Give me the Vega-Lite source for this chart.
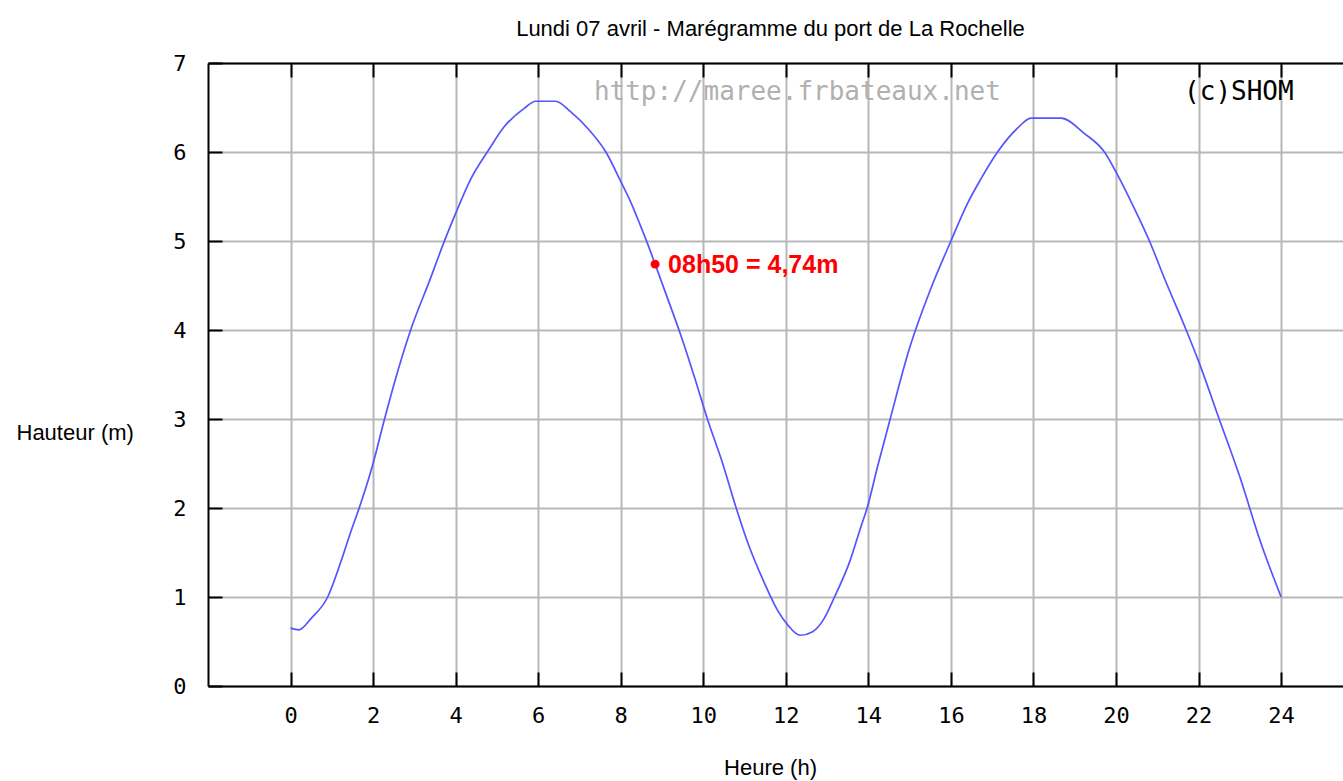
{
  "$schema": "https://vega.github.io/schema/vega-lite/v6.json",
  "width": 1135,
  "height": 623,
  "autosize": {"type": "none"},
  "padding": {"left": 208, "top": 63, "right": 0, "bottom": 95},
  "background": "white",
  "config": {"view": {"stroke": null}},
  "title": {
    "text": "Lundi 07 avril - Marégramme du port de La Rochelle",
    "font": "Liberation Sans", "fontSize": 22, "fontWeight": "normal", "color": "black",
    "anchor": "middle", "offset": 11, "dx": -5
  },
  "datasets": {
    "tide": [
      {"h": 0, "v": 0.65}, {"h": 0.2, "v": 0.63}, {"h": 0.5, "v": 0.76}, {"h": 0.9, "v": 1.0},
      {"h": 1.2, "v": 1.37}, {"h": 1.45, "v": 1.72}, {"h": 1.7, "v": 2.05}, {"h": 2.0, "v": 2.5},
      {"h": 2.26, "v": 2.97}, {"h": 2.5, "v": 3.38}, {"h": 2.91, "v": 4.0}, {"h": 3.39, "v": 4.58},
      {"h": 3.72, "v": 4.99}, {"h": 4.0, "v": 5.31}, {"h": 4.36, "v": 5.69}, {"h": 4.81, "v": 6.03},
      {"h": 5.17, "v": 6.28}, {"h": 5.66, "v": 6.49}, {"h": 5.94, "v": 6.57}, {"h": 6.42, "v": 6.57},
      {"h": 6.79, "v": 6.45}, {"h": 7.23, "v": 6.25}, {"h": 7.64, "v": 6.0}, {"h": 8.0, "v": 5.67},
      {"h": 8.24, "v": 5.44}, {"h": 8.48, "v": 5.17}, {"h": 8.65, "v": 4.97}, {"h": 8.833, "v": 4.74},
      {"h": 9.21, "v": 4.26}, {"h": 9.45, "v": 3.95}, {"h": 9.78, "v": 3.48}, {"h": 10.1, "v": 3.0},
      {"h": 10.47, "v": 2.5}, {"h": 10.79, "v": 2.01}, {"h": 11.11, "v": 1.57}, {"h": 11.44, "v": 1.2},
      {"h": 11.8, "v": 0.85}, {"h": 12.04, "v": 0.69}, {"h": 12.35, "v": 0.57}, {"h": 12.65, "v": 0.61},
      {"h": 12.93, "v": 0.76}, {"h": 13.17, "v": 0.99}, {"h": 13.55, "v": 1.4}, {"h": 13.82, "v": 1.79},
      {"h": 13.97, "v": 2.0}, {"h": 14.22, "v": 2.46}, {"h": 14.5, "v": 2.95}, {"h": 15.0, "v": 3.8},
      {"h": 15.5, "v": 4.45}, {"h": 16.0, "v": 5.0}, {"h": 16.4, "v": 5.42}, {"h": 16.73, "v": 5.7},
      {"h": 17.13, "v": 6.0}, {"h": 17.62, "v": 6.27}, {"h": 17.94, "v": 6.38}, {"h": 18.67, "v": 6.38},
      {"h": 19.23, "v": 6.21}, {"h": 19.72, "v": 6.0}, {"h": 20.04, "v": 5.74}, {"h": 20.44, "v": 5.37},
      {"h": 20.81, "v": 5.0}, {"h": 21.2, "v": 4.55}, {"h": 21.7, "v": 4.0}, {"h": 22.0, "v": 3.65},
      {"h": 22.5, "v": 3.0}, {"h": 23.0, "v": 2.35}, {"h": 23.5, "v": 1.62}, {"h": 24.0, "v": 1.0}
    ],
    "current": [{"h": 8.833, "v": 4.74, "label": "08h50 = 4,74m"}],
    "marks": [
      {"h": 7.35, "v": 6.67, "label": "http://maree.frbateaux.net", "kind": "web"},
      {"h": 21.65, "v": 6.67, "label": "(c)SHOM", "kind": "shom"}
    ]
  },
  "layer": [
    {
      "data": {"name": "tide"},
      "mark": {"type": "line", "color": "#5555ff", "strokeWidth": 1.7, "interpolate": "monotone"},
      "encoding": {
        "x": {
          "field": "h", "type": "quantitative",
          "scale": {"domain": [-2, 25.5], "nice": false, "zero": false},
          "axis": {
            "values": [0, 2, 4, 6, 8, 10, 12, 14, 16, 18, 20, 22, 24],
            "grid": true, "gridColor": "#b8b8b8", "gridWidth": 2,
            "domainColor": "black", "domainWidth": 2,
            "tickColor": "black", "tickWidth": 2, "tickSize": -14,
            "labelFont": "DejaVu Sans Mono", "labelFontSize": 22, "labelColor": "black",
            "labelPadding": 33,
            "title": "Heure (h)", "titleFont": "Liberation Sans", "titleFontSize": 22,
            "titleFontWeight": "normal", "titleColor": "black",
            "titleX": 562, "titleY": 81, "titleAlign": "center", "titleBaseline": "middle"
          }
        },
        "y": {
          "field": "v", "type": "quantitative",
          "scale": {"domain": [0, 7], "nice": false},
          "axis": {
            "values": [0, 1, 2, 3, 4, 5, 6, 7],
            "grid": true, "gridColor": "#b8b8b8", "gridWidth": 2,
            "domainColor": "black", "domainWidth": 2,
            "tickColor": "black", "tickWidth": 2, "tickSize": -14,
            "labelFont": "DejaVu Sans Mono", "labelFontSize": 22, "labelColor": "black",
            "labelPadding": 36,
            "title": "Hauteur (m)", "titleFont": "Liberation Sans", "titleFontSize": 22,
            "titleFontWeight": "normal", "titleColor": "black", "titleAngle": 0,
            "titleX": -192, "titleY": 369, "titleAlign": "left", "titleBaseline": "middle"
          }
        }
      }
    },
    {
      "data": {"name": "current"},
      "mark": {"type": "point", "filled": true, "color": "#ff0000", "size": 80, "opacity": 1},
      "encoding": {
        "x": {
          "field": "h", "type": "quantitative",
          "axis": {
            "orient": "top", "values": [0, 2, 4, 6, 8, 10, 12, 14, 16, 18, 20, 22, 24],
            "grid": false, "labels": false, "title": null,
            "domainColor": "black", "domainWidth": 2,
            "tickColor": "black", "tickWidth": 2, "tickSize": -14
          }
        },
        "y": {"field": "v", "type": "quantitative", "axis": null}
      }
    },
    {
      "data": {"name": "current"},
      "mark": {"type": "text", "color": "#ff0000", "font": "Liberation Sans", "fontSize": 25, "fontWeight": "bold", "align": "left", "baseline": "middle", "dx": 13, "dy": 1},
      "encoding": {
        "x": {"field": "h", "type": "quantitative", "axis": null},
        "y": {"field": "v", "type": "quantitative", "axis": null},
        "text": {"field": "label"}
      }
    },
    {
      "data": {"name": "marks"},
      "mark": {"type": "text", "font": "DejaVu Sans Mono", "fontSize": 26, "align": "left", "baseline": "middle"},
      "encoding": {
        "x": {"field": "h", "type": "quantitative", "axis": null},
        "y": {"field": "v", "type": "quantitative", "axis": null},
        "text": {"field": "label"},
        "color": {"field": "kind", "type": "nominal", "scale": {"domain": ["web", "shom"], "range": ["#b0b0b0", "#000000"]}, "legend": null}
      }
    }
  ],
  "resolve": {"axis": {"x": "independent", "y": "independent"}}
}
